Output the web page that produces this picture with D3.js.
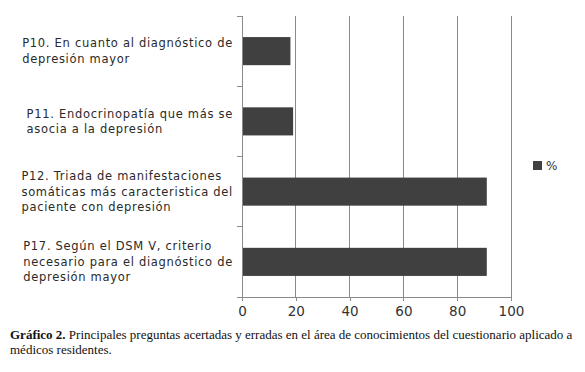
<!DOCTYPE html>
<html><head><meta charset="utf-8">
<script src="https://cdn.jsdelivr.net/npm/d3@7"></script>
<style>
html,body{margin:0;padding:0;background:#fff;}
svg{display:block;}
</style></head>
<body>
<svg id="c" width="585" height="372"></svg>
<script>
const categories = [
  ["P10. En cuanto al diagnóstico de", "depresión mayor"],
  ["P11. Endocrinopatía que más se", "asocia a la depresión"],
  ["P12. Triada de manifestaciones", "somáticas más caracteristica del", "paciente con depresión"],
  ["P17. Según el DSM V, criterio", "necesario para el diagnóstico de", "depresión mayor"]
];
const values = [18, 19, 91, 91];
const xTicks = [0, 20, 40, 60, 80, 100];
const seriesName = "%";
const captionBold = "Gráfico 2.";
const captionLine1 = " Principales preguntas acertadas y erradas en el área de conocimientos del cuestionario aplicado a";
const captionLine2 = "médicos residentes.";

const svg = d3.select("#c");
const m = {left: 242, right: 511, top: 16, bottom: 297};
const x = d3.scaleLinear().domain([0, 100]).range([m.left, m.right]);
const y = d3.scaleBand().domain(d3.range(categories.length)).range([m.top, m.bottom]).paddingInner(0.6).paddingOuter(0.3);
const band = d3.scaleBand().domain(d3.range(categories.length)).range([m.top, m.bottom]);

const gridColor = "#8a8a8a";
// gridlines
svg.append("g").selectAll("line").data(xTicks.slice(1)).join("line")
  .attr("x1", d => x(d)).attr("x2", d => x(d))
  .attr("y1", m.top).attr("y2", m.bottom)
  .attr("stroke", gridColor).attr("stroke-width", 1).attr("shape-rendering", "crispEdges");

// bars
svg.append("g").selectAll("rect").data(values).join("rect")
  .attr("x", x(0)).attr("y", (d, i) => y(i))
  .attr("width", d => x(d) - x(0)).attr("height", y.bandwidth())
  .attr("fill", "#404040");

// x axis
const xAxis = d3.axisBottom(x).tickValues(xTicks).tickSize(4).tickSizeOuter(0).tickPadding(5);
const gx = svg.append("g").attr("transform", `translate(0,${m.bottom})`).call(xAxis);
gx.select(".domain").attr("stroke", gridColor).attr("shape-rendering", "crispEdges");
gx.selectAll(".tick line").attr("stroke", gridColor).attr("shape-rendering", "crispEdges");
gx.selectAll(".tick text").attr("font-family", "DejaVu Sans").attr("font-size", 13.5).attr("fill", "#333");

// y axis (band boundaries ticks)
const ticksY = d3.range(categories.length + 1).map(i => i === categories.length ? m.bottom : band(i));
svg.append("line").attr("x1", m.left).attr("x2", m.left).attr("y1", m.top).attr("y2", m.bottom)
  .attr("stroke", gridColor).attr("shape-rendering", "crispEdges");
svg.append("g").selectAll("line").data(ticksY).join("line")
  .attr("x1", m.left - 5).attr("x2", m.left).attr("y1", d => d).attr("y2", d => d)
  .attr("stroke", gridColor).attr("shape-rendering", "crispEdges");

// category labels
const lineH = 15.5;
const labelRight = 233;
categories.forEach((lines, i) => {
  const cy = band(i) + band.bandwidth() / 2;
  const t = svg.append("text").attr("font-family", "DejaVu Sans").attr("font-size", 11.5)
    .attr("letter-spacing", "0.7px")
    .attr("fill", "#2a2a2a").attr("text-anchor", "start");
  const n = lines.length;
  const spans = lines.map((s, k) => t.append("tspan").attr("x", 0)
    .attr("y", cy + (k - (n - 1) / 2) * lineH).attr("dy", "0.35em").text(s));
  const w = d3.max(spans, s => s.node().getComputedTextLength());
  spans.forEach(s => s.attr("x", labelRight - w));
});

// legend
svg.append("rect").attr("x", 533).attr("y", 161).attr("width", 9).attr("height", 9).attr("fill", "#404040");
svg.append("text").attr("x", 546).attr("y", 165.5).attr("dy", "0.35em")
  .attr("font-family", "DejaVu Sans").attr("font-size", 12).attr("fill", "#333").text(seriesName);

// caption
const cap = svg.append("text").attr("x", 10).attr("y", 339)
  .attr("font-family", "Liberation Serif").attr("font-size", 13).attr("fill", "#111");
cap.append("tspan").attr("font-weight", "bold").text(captionBold);
cap.append("tspan").text(captionLine1);
svg.append("text").attr("x", 10).attr("y", 354)
  .attr("font-family", "Liberation Serif").attr("font-size", 13).attr("fill", "#111").text(captionLine2);
</script>
</body></html>
